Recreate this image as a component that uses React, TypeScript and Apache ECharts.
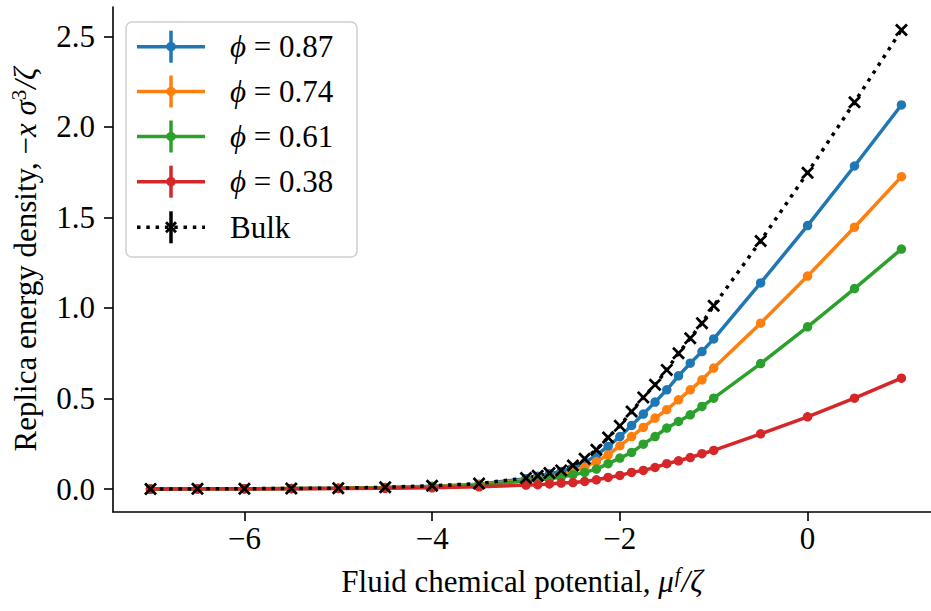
import React, { useEffect, useRef } from "react";
import * as echarts from "echarts";

const xs = [-7, -6.5, -6, -5.5, -5, -4.5, -4, -3.5, -3, -2.875, -2.75, -2.625, -2.5, -2.375, -2.25, -2.125, -2, -1.875, -1.75, -1.625, -1.5, -1.375, -1.25, -1.125, -1, -0.5, 0, 0.5, 1];
const phi087 = [0, 0.001, 0.002, 0.003, 0.005, 0.009, 0.016, 0.027, 0.057, 0.070, 0.084, 0.097, 0.116, 0.143, 0.189, 0.235, 0.290, 0.351, 0.414, 0.480, 0.548, 0.625, 0.695, 0.759, 0.829, 1.138, 1.455, 1.784, 2.121];
const phi074 = [0, 0.001, 0.002, 0.003, 0.004, 0.008, 0.014, 0.024, 0.051, 0.057, 0.066, 0.079, 0.097, 0.121, 0.152, 0.189, 0.239, 0.290, 0.340, 0.392, 0.438, 0.493, 0.548, 0.603, 0.668, 0.916, 1.176, 1.446, 1.725];
const phi061 = [0, 0.001, 0.002, 0.003, 0.004, 0.007, 0.012, 0.020, 0.046, 0.051, 0.057, 0.066, 0.079, 0.092, 0.110, 0.140, 0.171, 0.202, 0.248, 0.290, 0.337, 0.373, 0.410, 0.456, 0.502, 0.693, 0.896, 1.107, 1.325];
const phi038 = [0, 0.001, 0.001, 0.002, 0.003, 0.004, 0.007, 0.012, 0.022, 0.024, 0.028, 0.033, 0.036, 0.042, 0.051, 0.064, 0.075, 0.092, 0.103, 0.119, 0.140, 0.156, 0.174, 0.195, 0.213, 0.305, 0.399, 0.502, 0.612];
const bulk = [0, 0.001, 0.002, 0.003, 0.005, 0.010, 0.018, 0.030, 0.061, 0.073, 0.088, 0.103, 0.130, 0.167, 0.217, 0.285, 0.349, 0.428, 0.506, 0.576, 0.658, 0.750, 0.833, 0.916, 1.012, 1.370, 1.747, 2.136, 2.535];

const phiLabels = ["0.87", "0.74", "0.61", "0.38"];
const xTicks = [-6, -4, -2, 0];
const yTicks = [0, 0.5, 1.0, 1.5, 2.0, 2.5];

const COLORS = ["#1f77b4", "#ff7f0e", "#2ca02c", "#d62728"];
const FONT = "'Liberation Serif', 'DejaVu Serif', serif";
const FS = 31;
const LW = 3.5;
const DOT: number[] = [3.5, 5.8];
const XPATH = "path://M0,1.5L1.5,0L5,3.5L8.5,0L10,1.5L6.5,5L10,8.5L8.5,10L5,6.5L1.5,10L0,8.5L3.5,5Z";

const rich = {
  i: { fontStyle: "italic", fontFamily: FONT, fontSize: FS, color: "#000" },
  sup: { fontStyle: "italic", fontFamily: FONT, fontSize: 21, color: "#000", verticalAlign: "top", padding: [0, 1, 13, 1] },
  supn: { fontFamily: FONT, fontSize: 21, color: "#000", verticalAlign: "top", padding: [0, 1, 13, 0] },
};

const fmtMinus = (v: number) => (v < 0 ? "\u2212" + Math.abs(v) : String(v));

export default function App() {
  const ref = useRef<HTMLDivElement>(null);
  useEffect(() => {
    if (!ref.current) return;
    const chart = echarts.init(ref.current, undefined, { renderer: "svg" });
    const phiSeries = [phi087, phi074, phi061, phi038].map((arr, k) => ({
      type: "line",
      name: "phi = " + phiLabels[k],
      data: xs.map((x, i) => [x, arr[i]]),
      symbol: "circle",
      symbolSize: 9.5,
      showSymbol: true,
      color: COLORS[k],
      itemStyle: { color: COLORS[k] },
      lineStyle: { color: COLORS[k], width: LW },
      emphasis: { disabled: true },
    }));
    const bulkSeries = {
      type: "line",
      name: "Bulk",
      data: xs.map((x, i) => [x, bulk[i]]),
      symbol: XPATH,
      symbolSize: 13,
      showSymbol: true,
      color: "#000",
      itemStyle: { color: "#000" },
      lineStyle: { color: "#000", width: LW, type: DOT, cap: "butt" },
      emphasis: { disabled: true },
    };

    const rowYs = [46.7, 91.5, 136.5, 181.7, 227.3];
    const legendEls: any[] = [
      {
        type: "rect",
        shape: { x: 126, y: 22, width: 231, height: 235, r: 6 },
        style: { fill: "rgba(255,255,255,0.85)", stroke: "#d0d0d0", lineWidth: 1.5 },
        z: 100,
      },
    ];
    phiLabels.forEach((lab, k) => {
      const y = rowYs[k];
      legendEls.push(
        { type: "line", shape: { x1: 137, y1: y, x2: 205, y2: y }, style: { stroke: COLORS[k], lineWidth: LW }, z: 101 },
        { type: "line", shape: { x1: 171, y1: y - 16, x2: 171, y2: y + 16 }, style: { stroke: COLORS[k], lineWidth: LW }, z: 101 },
        { type: "circle", shape: { cx: 171, cy: y, r: 4.75 }, style: { fill: COLORS[k] }, z: 102 },
        {
          type: "text",
          x: 230,
          y,
          style: { text: "{i|\u03D5} = " + lab, fill: "#000", fontSize: FS, fontFamily: FONT, verticalAlign: "middle", rich },
          z: 102,
        }
      );
    });
    const yb = rowYs[4];
    legendEls.push(
      { type: "line", shape: { x1: 137, y1: yb, x2: 205, y2: yb }, style: { stroke: "#000", lineWidth: LW, lineDash: DOT }, z: 101 },
      { type: "line", shape: { x1: 171, y1: yb - 16, x2: 171, y2: yb + 16 }, style: { stroke: "#000", lineWidth: LW }, z: 101 },
      {
        type: "polygon",
        shape: { points: [[-6, -4], [-4, -6], [0, -2], [4, -6], [6, -4], [2, 0], [6, 4], [4, 6], [0, 2], [-4, 6], [-6, 4], [-2, 0]] },
        x: 171,
        y: yb,
        style: { fill: "#000" },
        z: 102,
      },
      {
        type: "text",
        x: 230,
        y: yb,
        style: { text: "Bulk", fill: "#000", fontSize: FS, fontFamily: FONT, verticalAlign: "middle" },
        z: 102,
      }
    );

    chart.setOption({
      animation: false,
      backgroundColor: "#fff",
      grid: { left: 110, right: 0, top: 7, bottom: 99, containLabel: false },
      xAxis: {
        type: "value",
        min: -7.4,
        max: 1.315,
        splitLine: { show: false },
        axisLine: { onZero: false, lineStyle: { color: "#000", width: 1.6 } },
        axisTick: { customValues: xTicks, length: 9, lineStyle: { color: "#000", width: 1.6 } },
        axisLabel: { customValues: xTicks, formatter: fmtMinus, color: "#000", fontSize: FS, fontFamily: FONT, margin: 11 },
        name: "Fluid chemical potential, {i|\u03BC}{sup|f}{i|/\u03B6}",
        nameLocation: "middle",
        nameGap: 52,
        nameTextStyle: { color: "#000", fontSize: FS, fontFamily: FONT, rich },
      },
      yAxis: {
        type: "value",
        min: -0.1268,
        max: 2.662,
        splitLine: { show: false },
        axisLine: { onZero: false, lineStyle: { color: "#000", width: 1.6 } },
        axisTick: { customValues: yTicks, length: 9, lineStyle: { color: "#000", width: 1.6 } },
        axisLabel: { customValues: yTicks, formatter: (v: number) => v.toFixed(1), color: "#000", fontSize: FS, fontFamily: FONT, margin: 18 },
        name: "Replica energy density, \u2212{i|x} {i|\u03C3}{supn|3}{i|/\u03B6}",
        nameLocation: "middle",
        nameGap: 71,
        nameTextStyle: { color: "#000", fontSize: FS, fontFamily: FONT, rich },
      },
      series: [...phiSeries, bulkSeries],
      graphic: legendEls,
    });
    return () => chart.dispose();
  }, []);
  return <div ref={ref} style={{ position: "absolute", left: 0, top: 0, width: 931, height: 611 }} />;
}
